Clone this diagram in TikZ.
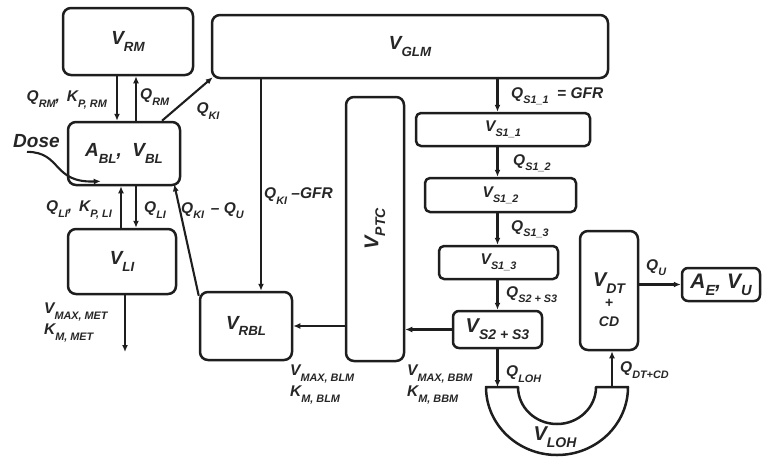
\documentclass[tikz,border=0pt]{standalone}
\usepackage{fontspec}
\setmainfont{Liberation Sans}
\usetikzlibrary{arrows.meta,calc,positioning}
\definecolor{PkLine}{HTML}{1E1E1E}
\definecolor{PkText}{HTML}{262626}
\newcommand{\Sub}[1]{\raisebox{-0.34em}{\scalebox{0.7}{#1}}}
\tikzset{
  >=Latex,
  every picture/.style = {line join=round},
  every node/.style = {text=PkText},
  comp/.style = {
    draw=PkLine,
    fill=white,
    line width=2.5pt,
    rounded corners=8pt,
    inner sep=0pt,
    align=center,
    font=\bfseries\itshape\fontsize{19}{23}\selectfont
  },
  comp small/.style = {comp, rounded corners=5pt, font=\bfseries\itshape\fontsize{15.5}{19}\selectfont},
  flow/.style = {-{Latex[length=7pt,width=6pt]}, draw=PkLine, line width=2.1pt},
  link/.style = {draw=PkLine, line width=2.5pt},
  rate/.style = {
    font=\bfseries\itshape\fontsize{15.5}{21}\selectfont,
    inner sep=1pt,
    align=left
  },
}

\begin{document}
\begin{tikzpicture}[x=1pt,y=1pt]
  \useasboundingbox (0,0) rectangle (762,-458);

  % compartments
  \node[comp, minimum width=130pt, minimum height=67pt] (VRM) at (128,-41.5) {V\Sub{RM}};
  \node[comp, minimum width=396pt, minimum height=63pt] (VGLM) at (410,-46.5) {V\Sub{GLM}};
  \node[comp, minimum width=112pt, minimum height=63pt] (ABL) at (124,-153.5) {A\Sub{BL}, \ V\Sub{BL}};
  \node[comp, minimum width=108pt, minimum height=65pt] (VLI) at (122,-261.5) {V\Sub{LI}};
  \node[comp, minimum width=92pt, minimum height=68pt] (VRBL) at (246,-326) {V\Sub{RBL}};
  \node[comp, minimum width=58pt, minimum height=264pt,
    label={[rotate=90, font=\bfseries\itshape\fontsize{20}{24}\selectfont]center:V\Sub{PTC}}] (VPTC) at (375,-229) {};

  \node[comp small, minimum width=174pt, minimum height=33pt] (VS11) at (503,-129.5) {V\Sub{S1\_1}};
  \node[comp small, minimum width=151pt, minimum height=34pt] (VS12) at (500.5,-195) {V\Sub{S1\_2}};
  \node[comp small, minimum width=119pt, minimum height=33pt] (VS13) at (498.5,-262.5) {V\Sub{S1\_3}};
  \node[comp, rounded corners=6pt, minimum width=89pt, minimum height=37pt,
    font=\bfseries\itshape\fontsize{20}{24}\selectfont] (VS23) at (497.5,-329.5) {V\Sub{S2 + S3}};

  \node[comp, minimum width=58pt, minimum height=119pt,
    label={[yshift=-9pt, align=center, font=\bfseries\itshape\fontsize{20}{22}\selectfont]center:%
      V\Sub{DT}\\[-1pt]{\fontsize{14}{18}\selectfont +}\\[-3pt]{\fontsize{14}{18}\selectfont CD}}] (VDT) at (609,-290.5) {};
  \node[comp, rounded corners=6pt, minimum width=78pt, minimum height=33pt,
    font=\bfseries\itshape\fontsize{21}{24}\selectfont] (AE) at (721,-284.5) {A\Sub{E}, V\Sub{U}};

  % loop of Henle
  \draw[link, fill=white] (518,-387) arc (180:360:39 and 37) -- (628,-387)
    arc (0:-180:71 and 68) -- cycle;
  \node[font=\bfseries\itshape\fontsize{20}{24}\selectfont] (VLOH) at (555,-437) {V\Sub{LOH}};
  \coordinate (loh in) at (498,-387);
  \coordinate (loh out) at (612,-387);

  % dose and elimination ends
  \node[font=\bfseries\itshape\fontsize{19}{22}\selectfont, inner sep=0pt, anchor=west] (dose) at (13,-141) {Dose};
  \coordinate (dose in) at ($(ABL.south west)+(34,5)$);
  \coordinate (met out) at (125,-352);

  % flows
  \draw[flow] ([xshift=-11pt]VRM.south) -- ([xshift=-11pt]VRM.south |- ABL.north);
  \draw[flow] ([xshift=12pt]ABL.north) -- ([xshift=12pt]ABL.north |- VRM.south);
  \draw[flow] ([xshift=38pt]ABL.north) -- ($(VGLM.south west)+(2,2)$);
  \draw[flow] ([xshift=-1pt]VLI.north) -- ([xshift=-1pt]VLI.north |- ABL.south);
  \draw[flow] ([xshift=12pt]ABL.south) -- ([xshift=12pt]ABL.south |- VLI.north);
  \draw[flow] ($(VRBL.north west)+(0,-5)$) -- ($(ABL.south east)+(-7,2)$);
  \draw[flow] ([xshift=15pt]VRBL.north |- VGLM.south) -- ([xshift=15pt]VRBL.north);
  \draw[flow] (VPTC.west |- VRBL.east) -- (VRBL.east);
  \draw[flow] (VS23.west) -- (VS23.west -| VPTC.east);
  \draw[flow] ([xshift=3pt]VLI.south) -- (met out);
  \draw[flow] ([xshift=14pt, yshift=-4pt]dose.south west) .. controls (62,-152) and (52,-183) .. (dose in);

  \draw[flow] (VGLM.south -| VS23.north) -- (VS11.north -| VS23.north);
  \draw[flow] (VS11.south -| VS23.north) -- (VS12.north -| VS23.north);
  \draw[flow] (VS12.south -| VS23.north) -- (VS13.north -| VS23.north);
  \draw[flow] (VS13.south -| VS23.north) -- (VS23.north);
  \draw[flow] (VS23.south) -- (VS23.south |- loh in);
  \draw[flow] (loh out) -- (loh out |- VDT.south);
  \draw[flow] (VDT.east |- AE.west) -- (AE.west);

  % flow labels
  \node[rate, anchor=east] at (108,-100) {Q\Sub{RM}, \,K\Sub{P, RM}};
  \node[rate, anchor=west] at (139,-97) {Q\Sub{RM}};
  \node[rate] at (208,-111) {Q\Sub{KI}};
  \node[rate, anchor=east] at (113,-210) {Q\Sub{LI}, \,K\Sub{P, LI}};
  \node[rate, anchor=west] at (143,-210) {Q\Sub{LI}};
  \node[rate, anchor=west] at (180,-211) {Q\Sub{KI} \,-- Q\Sub{U}};
  \node[rate, anchor=west] at (263,-196) {Q\Sub{KI} --GFR};
  \node[rate, anchor=north west] at (43,-302) {V\Sub{MAX, MET}\\K\Sub{M, MET}};
  \node[rate, anchor=north west] at (289,-364) {V\Sub{MAX, BLM}\\K\Sub{M, BLM}};
  \node[rate, anchor=north west] at (406,-364) {V\Sub{MAX, BBM}\\K\Sub{M, BBM}};
  \node[rate, anchor=west] at (510,-96) {Q\Sub{S1\_1} \ = GFR};
  \node[rate, anchor=west] at (512,-163) {Q\Sub{S1\_2}};
  \node[rate, anchor=west] at (510,-229) {Q\Sub{S1\_3}};
  \node[rate, anchor=west] at (505,-295) {Q\Sub{S2 + S3}};
  \node[rate, anchor=west] at (505,-374) {Q\Sub{LOH}};
  \node[rate, anchor=west] at (619,-370) {Q\Sub{DT+CD}};
  \node[rate, anchor=west] at (645,-268) {Q\Sub{U}};
\end{tikzpicture}
\end{document}
